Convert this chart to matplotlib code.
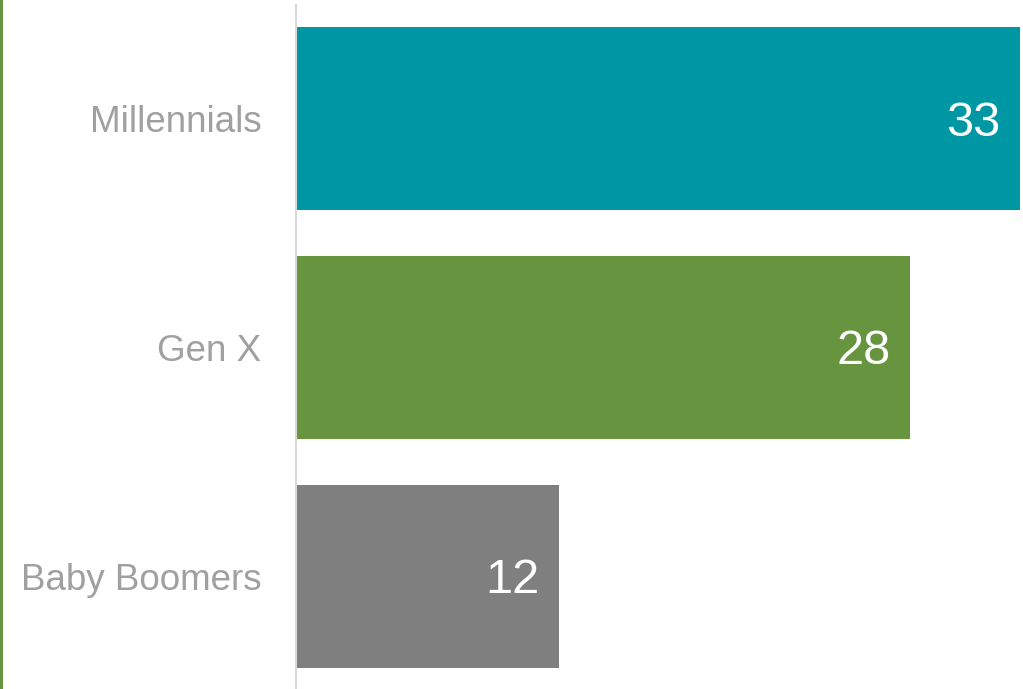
import matplotlib
matplotlib.use("Agg")
import matplotlib.pyplot as plt

# share by generation
groups = ["Millennials", "Gen X", "Baby Boomers"]
values = [33, 28, 12]
colors = ["#0097a5", "#67943f", "#7f7f7f"]

plt.rcParams["font.family"] = ["Liberation Sans", "DejaVu Sans"]

W, H = 1023, 689
fig = plt.figure(figsize=(W / 100, H / 100), dpi=100)
ax = fig.add_axes([296 / W, -1.5 / H, (1020 - 296) / W, 686 / H])

y = range(len(groups))
bars = ax.barh(y, values, height=0.8, color=colors)
ax.set_xlim(0, max(values))
ax.set_ylim(len(groups) - 0.5, -0.5)

for b, v in zip(bars, values):
    ax.annotate(f"{v}", (v, b.get_y() + b.get_height() / 2), xytext=(-14, -3),
                textcoords="offset points", ha="right", va="center",
                color="white", fontsize=35)

ax.set_yticks(list(y))
ax.set_yticklabels(groups, fontsize=26.5, color="#a0a0a0")
ax.tick_params(axis="y", length=0, pad=25)
ax.set_xticks([])
for s in ["top", "right", "bottom"]:
    ax.spines[s].set_visible(False)
ax.spines["left"].set_color("#d9d9d9")
ax.spines["left"].set_linewidth(1.5)

# thin green rule on the left edge
fig.add_artist(plt.Line2D([1.2 / W, 1.2 / W], [0, 1], color="#67943f", linewidth=2.2,
                          transform=fig.transFigure))

fig.savefig("out.png", dpi=100)
